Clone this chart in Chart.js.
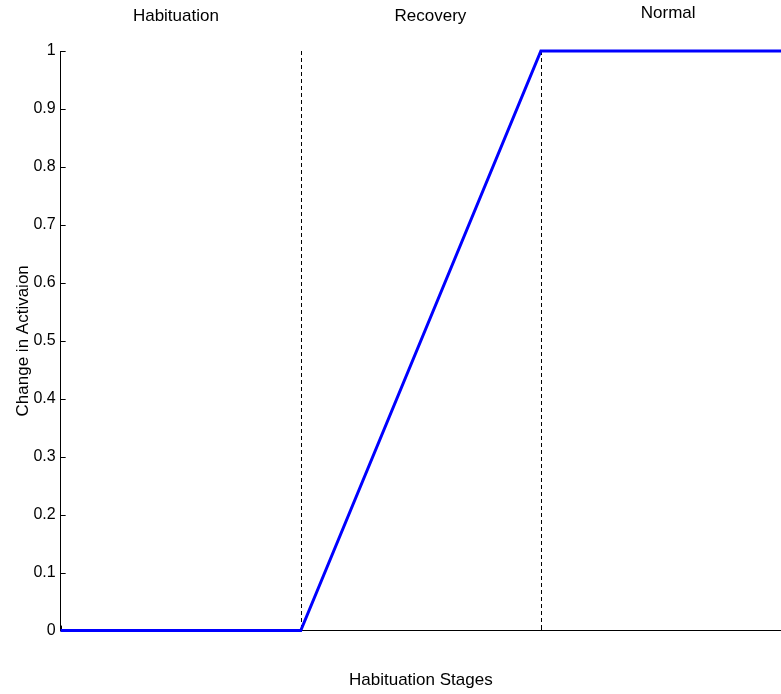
<!DOCTYPE html>
<html>
<head>
<meta charset="utf-8">
<script src="https://cdn.jsdelivr.net/npm/chart.js@4"></script>
<style>
  html, body { margin: 0; padding: 0; background: #fff; }
  #chart { display: block; }
</style>
</head>
<body>
<canvas id="chart" width="781" height="694"></canvas>
<script>
// Data
const stageX = [0, 1, 2, 3];
const activation = [0, 0, 1, 1];
const stageNames = ['Habituation', 'Recovery', 'Normal'];
const stageLabelX = [0.48, 1.54, 2.53];
const boundaryX = [1, 2];
const yTicks = [0, 0.1, 0.2, 0.3, 0.4, 0.5, 0.6, 0.7, 0.8, 0.9, 1];
const xTicks = [0, 1, 2, 3];

const FONT = 'Liberation Sans, Arial, Helvetica, sans-serif';

// dashed stage boundaries, inward tick marks, stage labels on top
const stagePlugin = {
    id: 'stages',
    beforeDatasetsDraw(chart) {
        const ctx = chart.ctx;
        const xs = chart.scales.x;
        const ys = chart.scales.y;
        const top = ys.getPixelForValue(1);
        const bottom = ys.getPixelForValue(0);
        ctx.save();
        ctx.strokeStyle = '#000';
        ctx.lineWidth = 1;
        ctx.setLineDash([4, 3]);
        boundaryX.forEach(v => {
            const px = Math.round(xs.getPixelForValue(v)) + 0.5;
            ctx.beginPath();
            ctx.moveTo(px, top);
            ctx.lineTo(px, bottom);
            ctx.stroke();
        });
        ctx.setLineDash([]);
        // inward ticks on y axis
        yTicks.forEach(v => {
            const py = Math.round(ys.getPixelForValue(v)) + 0.5;
            ctx.beginPath();
            ctx.moveTo(xs.left, py);
            ctx.lineTo(xs.left + 5, py);
            ctx.stroke();
        });
        // inward ticks on x axis
        xTicks.forEach(v => {
            const px = Math.round(xs.getPixelForValue(v)) + 0.5;
            ctx.beginPath();
            ctx.moveTo(px, bottom);
            ctx.lineTo(px, bottom - 5);
            ctx.stroke();
        });
        ctx.restore();
    },
    afterDraw(chart) {
        const ctx = chart.ctx;
        const xs = chart.scales.x;
        const labelY = [16, 16, 13];
        ctx.save();
        ctx.fillStyle = '#000';
        ctx.font = '17px ' + FONT;
        ctx.textAlign = 'center';
        ctx.textBaseline = 'middle';
        stageNames.forEach((name, i) => {
            ctx.fillText(name, xs.getPixelForValue(stageLabelX[i]), labelY[i]);
        });
        ctx.restore();
    }
};

new Chart(document.getElementById('chart'), {
    type: 'line',
    data: {
        datasets: [{
            data: stageX.map((x, i) => ({ x: x, y: activation[i] })),
            borderColor: '#0000ff',
            borderWidth: 3,
            pointRadius: 0,
            fill: false,
            tension: 0,
            clip: false
        }]
    },
    options: {
        responsive: false,
        animation: false,
        layout: { padding: { top: 51, left: 12, right: 0, bottom: 3 } },
        plugins: {
            legend: { display: false },
            tooltip: { enabled: false }
        },
        scales: {
            x: {
                type: 'linear',
                min: 0,
                max: 3,
                grid: { display: false, drawTicks: false },
                border: { display: true, color: '#000', width: 1 },
                ticks: { display: false },
                title: {
                    display: true,
                    text: 'Habituation Stages',
                    color: '#000',
                    font: { family: FONT, size: 17 },
                    padding: { top: 40, bottom: 0 }
                }
            },
            y: {
                min: 0,
                max: 1,
                grid: { display: false, drawTicks: false },
                border: { display: true, color: '#000', width: 1 },
                afterBuildTicks(scale) {
                    scale.ticks = yTicks.map(v => ({ value: v }));
                },
                ticks: {
                    color: '#000',
                    font: { family: FONT, size: 16 },
                    padding: 5,
                    callback: v => String(Math.round(v * 10) / 10)
                },
                title: {
                    display: true,
                    text: 'Change in Activaion',
                    color: '#000',
                    font: { family: FONT, size: 17 },
                    padding: { top: 1, bottom: -5 }
                }
            }
        }
    },
    plugins: [stagePlugin]
});
</script>
</body>
</html>
